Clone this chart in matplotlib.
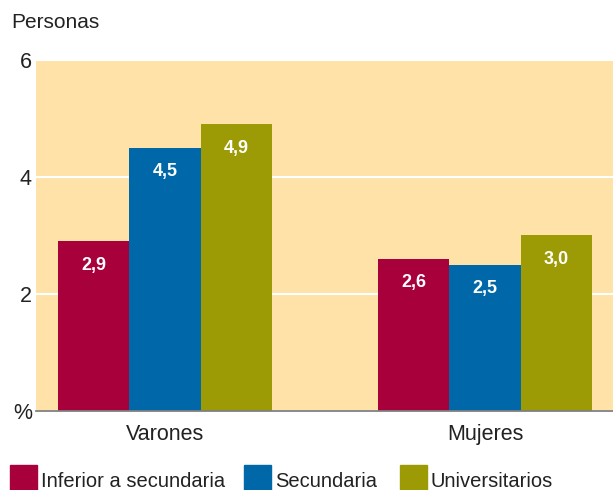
import numpy as np
import matplotlib.pyplot as plt
from matplotlib.patches import Rectangle

plt.rcParams['font.family'] = ['Liberation Sans', 'DejaVu Sans']

# datos
grupos = ['Varones', 'Mujeres']
series = ['Inferior a secundaria', 'Secundaria', 'Universitarios']
inferior = [2.9, 2.6]
secundaria = [4.5, 2.5]
universitarios = [4.9, 3.0]
valores = [inferior, secundaria, universitarios]
colores = ['#a8003a', '#0067a8', '#9c9a05']
fondo = '#fee2a8'
texto = '#222222'

W, H = 613, 490
fig = plt.figure(figsize=(W / 100, H / 100), dpi=100)
ax = fig.add_axes([36 / W, (H - 411) / H, 577 / W, 351 / H])
ax.set_facecolor(fondo)

ancho = 1.0
centros = np.array([0.0, 320 / 71.5])
for i, (vals, col) in enumerate(zip(valores, colores)):
    xs = centros + (i - 1) * ancho
    ax.bar(xs, vals, width=ancho, color=col, zorder=3)
    for x, v in zip(xs, vals):
        ax.text(x, v - 0.41, f'{v:.1f}'.replace('.', ','), ha='center', va='center',
                color='white', fontsize=13, fontweight='bold', zorder=4)

ax.set_xlim((36 - 165) / 71.5, (613 - 165) / 71.5)
ax.set_ylim(0, 6)
ax.set_yticks([0, 2, 4, 6])
ax.set_yticklabels(['%', '2', '4', '6'])
ax.yaxis.grid(True, color='white', linewidth=1.5, zorder=1)
ax.set_axisbelow(True)
ax.set_xticks(centros)
ax.set_xticklabels(grupos)
ax.tick_params(axis='both', length=0, labelsize=15.5, colors=texto)
ax.tick_params(axis='x', pad=9)
ax.tick_params(axis='y', pad=3)
for s in ['top', 'right', 'left']:
    ax.spines[s].set_visible(False)
ax.spines['bottom'].set_color('#808080')
ax.spines['bottom'].set_linewidth(1.3)
ax.spines['bottom'].set_zorder(5)

fig.text(11 / W, 1 - 22 / H, 'Personas', fontsize=15, color=texto, ha='left', va='center')

# leyenda
leg_x = [10, 244, 400]
for lx, lab, col in zip(leg_x, series, colores):
    fig.patches.append(Rectangle((lx / W, 0), 27 / W, 25 / H, transform=fig.transFigure,
                                 color=col, figure=fig))
    fig.text((lx + 31) / W, 1 - 481 / H, lab, fontsize=14.5, color=texto,
             ha='left', va='center')

fig.savefig('out.png', dpi=100)
